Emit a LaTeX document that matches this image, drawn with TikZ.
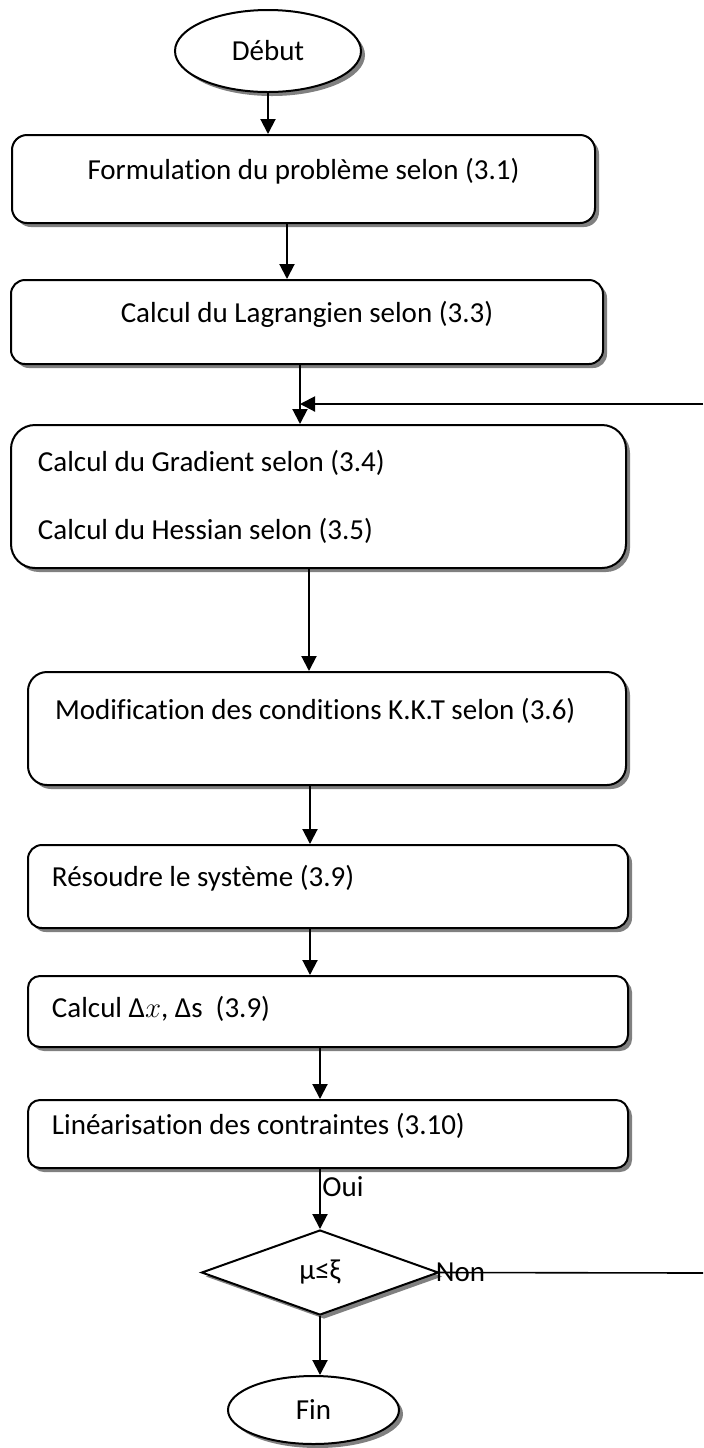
\documentclass[tikz,border=0pt]{standalone}
\usepackage{fontspec}
\setmainfont{Carlito}[Ligatures={NoCommon,NoContextual}]
\usetikzlibrary{shapes.geometric,shadows,arrows.meta}

\tikzset{
  ombre/.style={drop shadow={shadow xshift=2pt, shadow yshift=-2pt, fill=black!50, opacity=1}},
  boite/.style={draw, line width=1pt, fill=white, ombre, rectangle, inner sep=0pt},
  ligne/.style={text height=10pt, text depth=10pt},
  gauche/.style={align=flush left, text width=#1},
  terminal/.style={draw, line width=1pt, fill=white, ombre, ellipse, inner sep=0pt},
  decision/.style={draw, line width=1pt, fill=white, ombre, diamond, inner sep=0pt},
  fleche/.style={line width=1pt, -{Triangle[length=7.5pt,width=7.5pt]}},
  trait/.style={line width=0.8pt},
  etiq/.style={inner sep=0pt}
}

\begin{document}
\begin{tikzpicture}[x=0.5pt, y=-0.5pt, font=\fontsize{14.5}{17.4}\selectfont]
\fill[white] (0,0) rectangle (703,1448);
\useasboundingbox (0,0) rectangle (703,1448);

% Debut
\node[terminal, minimum width=93pt, minimum height=41pt] (debut) at (268,51) {Début};

% Formulation et Lagrangien
\node[boite, ligne, rounded corners=7.5pt, minimum width=291.5pt, minimum height=44pt] (formul) at (303.5,179) {Formulation du problème selon (3.1)};
\node[boite, ligne, rounded corners=7pt, minimum width=296pt, minimum height=42pt] (lagr) at (307,322) {Calcul du Lagrangien selon (3.3)};

% Gradient et Hessian
\node[boite, gauche=280.5pt, rounded corners=12pt, minimum width=307.5pt, minimum height=71.5pt] (grad) at (318.5,496.5) {Calcul du Gradient selon (3.4)\\[16.6pt]Calcul du Hessian selon (3.5)};

% Conditions K.K.T
\node[boite, gauche=272pt, text height=10pt, text depth=19pt, rounded corners=9.5pt, minimum width=299pt, minimum height=56.5pt] (kkt) at (327,728.5) {Modification des conditions K.K.T selon (3.6)};

% Resolution
\node[boite, ligne, gauche=276pt, rounded corners=7pt, minimum width=300pt, minimum height=41.5pt] (resoudre) at (328,886.5) {Résoudre le système (3.9)};
\node[boite, gauche=276pt, text height=13pt, text depth=7pt, rounded corners=6pt, minimum width=300pt, minimum height=35.5pt] (delta) at (328,1011.5) {Calcul Δ$x$, Δs~~(3.9)};
\node[boite, ligne, gauche=276pt, rounded corners=6pt, minimum width=300pt, minimum height=34pt] (linear) at (328,1134) {Linéarisation des contraintes (3.10)};

% Test et fin
\node[decision, minimum width=118.5pt, minimum height=42.5pt] (test) at (320,1272.5) {μ≤ξ};
\node[terminal, minimum width=85.5pt, minimum height=34pt] (fin) at (313.5,1410) {Fin};

% Fleches
\draw[fleche] (debut) -- (debut |- formul.north);
\draw[fleche] (formul.south -| 287,0) -- (lagr.north -| 287,0);
\draw[fleche] (lagr.south -| 300,0) -- (grad.north -| 300,0);
\draw[fleche] (grad.south -| 309,0) -- (kkt.north -| 309,0);
\draw[fleche] (kkt.south -| 310,0) -- (resoudre.north -| 310,0);
\draw[fleche] (resoudre.south -| 310,0) -- (delta.north -| 310,0);
\draw[fleche] (delta.south -| 320,0) -- (linear.north -| 320,0);
\draw[fleche] (linear.south -| test) -- (test);
\draw[fleche] (test) -- (test |- fin.north);

% Boucle
\coordinate (nonfin) at (703,1273);
\coordinate (retour) at (703,404);
\draw[trait] (test.east) -- (nonfin);
\draw[fleche] (retour) -- (retour -| 300,0);

% Etiquettes
\node[etiq, anchor=west] (oui) at (322,1187) {Oui};
\node[etiq, anchor=west, xshift=-2pt] (non) at (test.east) {Non};
\end{tikzpicture}
\end{document}
